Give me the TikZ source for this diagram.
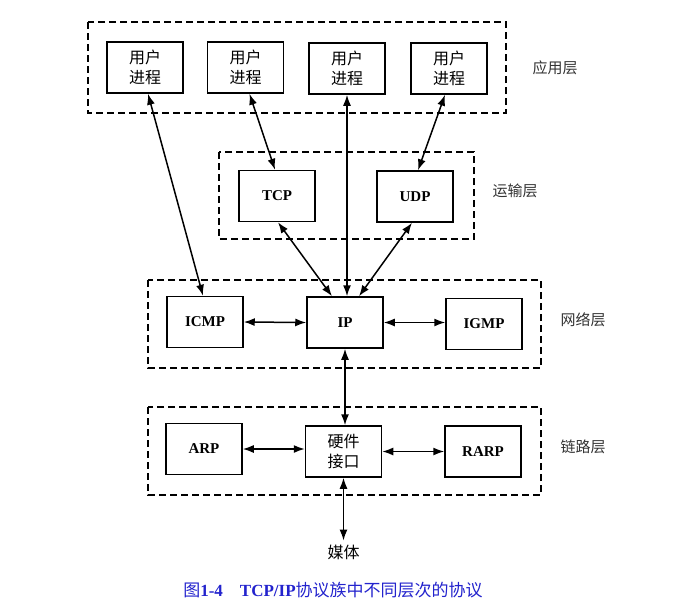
\documentclass[tikz,border=0pt]{standalone}
\usepackage{fontspec}
\setmainfont{Liberation Serif}
\newfontfamily\cjk{Noto Sans CJK SC}
\usepackage{tikz}
\usetikzlibrary{positioning,arrows.meta}
\usepackage{xcolor}
\definecolor{capblue}{RGB}{35,35,205}

\begin{document}
\begin{tikzpicture}[x=1pt, y=-1pt, line width=1.5pt,
  >={Latex[length=11pt,width=8pt]},
  every node/.style = {font=\fontsize{15}{18}\selectfont},
  proc/.style = {draw, align=center, minimum width=76pt, minimum height=51pt,
	inner sep=0pt},
  cjkproc/.style = {proc, font=\fontsize{16}{20}\selectfont\cjk},
  layer/.style = {draw, dashed, dash pattern=on 7pt off 4pt, line width=1.2pt},
  layername/.style = {font=\fontsize{15}{18}\selectfont\cjk, text=black!80}]

\useasboundingbox (0,0) rectangle (698,611);

% layer frames
\draw[layer] (88,22) rectangle (506,113);
\draw[layer] (219,152) rectangle (474,239);
\draw[layer] (148,280) rectangle (541,368);
\draw[layer] (148,407) rectangle (541,495);

\node[layername] (app) at (555,68) {应用层};
\node[layername] (trans) at (515,191) {运输层};
\node[layername] (net) at (583,320) {网络层};
\node[layername] (link) at (583,447) {链路层};

% application layer
\node[cjkproc] (u1) at (145,67.5) {用户\\进程};
\node[cjkproc] (u2) at (245.5,67.5) {用户\\进程};
\node[cjkproc] (u3) at (347,68.5) {用户\\进程};
\node[cjkproc] (u4) at (449,68.5) {用户\\进程};

% transport layer
\node[proc] (tcp) at (277,196) {\bfseries TCP};
\node[proc] (udp) at (415,196.5) {\bfseries UDP};

% network layer
\node[proc] (icmp) at (205,322) {\bfseries ICMP};
\node[proc] (ip) at (345,322.5) {\bfseries IP};
\node[proc] (igmp) at (484,324) {\bfseries IGMP};

% link layer
\node[proc] (arp) at (204,449) {\bfseries ARP};
\node[cjkproc] (hw) at (343.5,451.5) {硬件\\接口};
\node[proc] (rarp) at (483,451.5) {\bfseries RARP};

\node[font=\fontsize{16}{18}\selectfont\cjk] (media) at (343.5,552) {媒体};

\node[text=capblue, font=\fontsize{17}{20}\selectfont] (cap) at (333,590)
	{{\cjk 图}\textbf{1-4}\quad\textbf{TCP/IP}{\cjk 协议族中不同层次的协议}};

% connectors
\draw[<->] ([xshift=3]u1.south) -- ([xshift=-2]icmp.north);
\draw[<->] ([xshift=4]u2.south) -- ([xshift=-2]tcp.north);
\draw[<->] (u3.south) -- ([xshift=2]ip.north);
\draw[<->] ([xshift=-4]u4.south) -- ([xshift=3]udp.north);
\draw[<->] ([xshift=1]tcp.south) -- ([xshift=-13]ip.north);
\draw[<->] ([xshift=-3]udp.south) -- ([xshift=14]ip.north);
\draw[<->] (icmp.east) -- (ip.west);
\draw[<->] (ip.east) -- (ip.east -| igmp.west);
\draw[<->] (ip.south) -- (hw.north -| ip.south);
\draw[<->] (arp.east) -- (arp.east -| hw.west);
\draw[<->] (hw.east) -- (hw.east -| rarp.west);
\draw[<->] (hw.south) -- (media.north);
\end{tikzpicture}
\end{document}
